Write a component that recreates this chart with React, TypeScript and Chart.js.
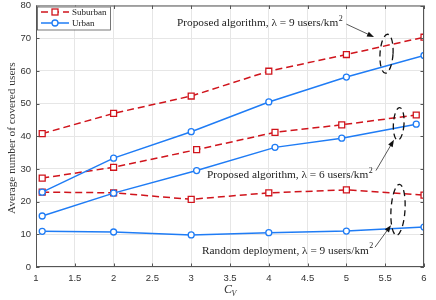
import React, { useEffect, useRef } from 'react';
import { Chart, registerables } from 'chart.js';

Chart.register(...registerables);

const xHigh = [1.08, 2, 3, 4, 5, 6];
const xMid = [1.08, 2, 3.07, 4.08, 4.94, 5.9];
const xLow = [1.08, 2, 3, 4, 5, 6];
const suburbanHigh = [40.8, 47.0, 52.3, 59.9, 65.0, 70.3];
const urbanHigh = [22.9, 33.3, 41.4, 50.5, 58.1, 64.7];
const suburbanMid = [27.2, 30.5, 35.9, 41.2, 43.5, 46.5];
const urbanMid = [15.6, 22.6, 29.5, 36.6, 39.4, 43.7];
const suburbanLow = [22.9, 22.7, 20.7, 22.7, 23.6, 22.0];
const urbanLow = [10.9, 10.7, 9.8, 10.5, 11.0, 12.2];
const xTicks = [1, 1.5, 2, 2.5, 3, 3.5, 4, 4.5, 5, 5.5, 6];
const xTickLabels = ['1', '1.5', '2', '2.5', '3', '3.5', '4', '4.5', '5', '5.5', '6'];
const yTicks = [0, 10, 20, 30, 40, 50, 60, 70, 80];
const yTickLabels = ['0', '10', '20', '30', '40', '50', '60', '70', '80'];

const legendLabels = ['Suburban', 'Urban'];
const annotationTexts = [
  'Proposed algorithm, \u03bb = 9 users/km',
  'Proposed algorithm, \u03bb = 6 users/km',
  'Random deployment, \u03bb = 9 users/km',
];
// [textX, textY, arrowTailX, arrowTailY, arrowTipX, arrowTipY, ellipseX, ellipseY] in data units
const annotationAnchors = [
  [2.817, 74.5, 5.0, 74.3, 5.356, 70.36, 5.517, 65.25],
  [3.204, 28.0, 5.381, 29.5, 5.613, 38.9, 5.674, 43.8],
  [3.139, 4.87, 5.369, 6.08, 5.575, 12.78, 5.665, 17.5],
];
const ellipseRadii = [
  [6.5, 19.5],
  [5.3, 16.3],
  [7, 25.5],
];

const RED = '#d0141c';
const BLUE = '#1f7cf5';
const SERIF = '"Liberation Serif", "DejaVu Serif", serif';
const SANS = '"Liberation Sans", Arial, sans-serif';

const zip = (xs: number[], ys: number[]) => xs.map((x, i) => ({ x, y: ys[i] }));

const sub = (data: { x: number; y: number }[]) => ({
  data,
  borderColor: RED,
  backgroundColor: RED,
  borderWidth: 1.5,
  borderDash: [7, 4],
  pointStyle: 'rect',
  pointRadius: 4.2,
  pointBorderWidth: 1.3,
  pointBackgroundColor: '#fff',
  pointBorderColor: RED,
  showLine: true,
  tension: 0,
});
const urb = (data: { x: number; y: number }[]) => ({
  data,
  borderColor: BLUE,
  backgroundColor: BLUE,
  borderWidth: 1.5,
  pointStyle: 'circle',
  pointRadius: 3,
  pointBorderWidth: 1.3,
  pointBackgroundColor: '#fff',
  pointBorderColor: BLUE,
  showLine: true,
  tension: 0,
});

const decorPlugin = {
  id: 'decor',
  afterDraw(chart: any) {
    const { ctx, chartArea: a, scales } = chart;
    const xs = scales.x;
    const ys = scales.y;
    ctx.save();
    // frame
    ctx.strokeStyle = '#555';
    ctx.lineWidth = 1;
    ctx.setLineDash([]);
    ctx.strokeRect(a.left + 0.5, a.top + 0.5, a.right - a.left - 1, a.bottom - a.top - 1);
    ctx.beginPath();
    xTicks.forEach((t) => {
      const px = Math.round(xs.getPixelForValue(t)) + 0.5;
      ctx.moveTo(px, a.bottom);
      ctx.lineTo(px, a.bottom - 3.5);
      ctx.moveTo(px, a.top);
      ctx.lineTo(px, a.top + 3.5);
    });
    yTicks.forEach((t) => {
      const py = Math.round(ys.getPixelForValue(t)) + 0.5;
      ctx.moveTo(a.left, py);
      ctx.lineTo(a.left + 3.5, py);
      ctx.moveTo(a.right, py);
      ctx.lineTo(a.right - 3.5, py);
    });
    ctx.stroke();

    // legend
    const lx = a.left + 1;
    const ly = a.top + 1;
    ctx.fillStyle = '#fff';
    ctx.fillRect(lx, ly, 73, 23);
    ctx.strokeStyle = '#555';
    ctx.lineWidth = 0.8;
    ctx.strokeRect(lx + 0.5, ly + 0.5, 73, 23);
    const rows = [ly + 5.5, ly + 16.5];
    ctx.font = '9px ' + SERIF;
    ctx.textBaseline = 'middle';
    ctx.textAlign = 'left';
    // suburban
    ctx.strokeStyle = RED;
    ctx.lineWidth = 1.5;
    ctx.setLineDash([7, 4]);
    ctx.beginPath();
    ctx.moveTo(lx + 4, rows[0]);
    ctx.lineTo(lx + 32, rows[0]);
    ctx.stroke();
    ctx.setLineDash([]);
    ctx.fillStyle = '#fff';
    ctx.lineWidth = 1.3;
    ctx.fillRect(lx + 15, rows[0] - 3, 6, 6);
    ctx.strokeRect(lx + 15, rows[0] - 3, 6, 6);
    // urban
    ctx.strokeStyle = BLUE;
    ctx.lineWidth = 1.5;
    ctx.beginPath();
    ctx.moveTo(lx + 4, rows[1]);
    ctx.lineTo(lx + 32, rows[1]);
    ctx.stroke();
    ctx.beginPath();
    ctx.arc(lx + 18, rows[1], 3, 0, Math.PI * 2);
    ctx.fillStyle = '#fff';
    ctx.fill();
    ctx.lineWidth = 1.3;
    ctx.stroke();
    ctx.fillStyle = '#222';
    ctx.fillText(legendLabels[0], lx + 35, rows[0] + 0.5);
    ctx.fillText(legendLabels[1], lx + 35, rows[1] + 0.5);

    // annotations
    annotationAnchors.forEach((an, i) => {
      const tx = xs.getPixelForValue(an[0]);
      const ty = ys.getPixelForValue(an[1]);
      ctx.fillStyle = '#222';
      ctx.font = '11.3px ' + SERIF;
      ctx.textBaseline = 'middle';
      ctx.textAlign = 'left';
      const txt = annotationTexts[i];
      ctx.fillText(txt, tx, ty);
      const w = ctx.measureText(txt).width;
      ctx.font = '8px ' + SERIF;
      ctx.fillText('2', tx + w + 0.5, ty - 5);

      // arrow
      const ax0 = xs.getPixelForValue(an[2]);
      const ay0 = ys.getPixelForValue(an[3]);
      const ax1 = xs.getPixelForValue(an[4]);
      const ay1 = ys.getPixelForValue(an[5]);
      const ang = Math.atan2(ay1 - ay0, ax1 - ax0);
      ctx.strokeStyle = '#111';
      ctx.lineWidth = 0.7;
      ctx.setLineDash([]);
      ctx.beginPath();
      ctx.moveTo(ax0, ay0);
      ctx.lineTo(ax1 - 5 * Math.cos(ang), ay1 - 5 * Math.sin(ang));
      ctx.stroke();
      ctx.fillStyle = '#111';
      ctx.beginPath();
      ctx.moveTo(ax1, ay1);
      ctx.lineTo(ax1 - 7 * Math.cos(ang) + 2.6 * Math.sin(ang), ay1 - 7 * Math.sin(ang) - 2.6 * Math.cos(ang));
      ctx.lineTo(ax1 - 7 * Math.cos(ang) - 2.6 * Math.sin(ang), ay1 - 7 * Math.sin(ang) + 2.6 * Math.cos(ang));
      ctx.closePath();
      ctx.fill();

      // ellipse
      const ex = xs.getPixelForValue(an[6]);
      const ey = ys.getPixelForValue(an[7]);
      ctx.strokeStyle = '#111';
      ctx.lineWidth = 1.3;
      ctx.setLineDash([6, 4]);
      ctx.beginPath();
      ctx.ellipse(ex, ey, ellipseRadii[i][0], ellipseRadii[i][1], 0.06, 0, Math.PI * 2);
      ctx.stroke();
      ctx.setLineDash([]);
    });

    // axis titles
    ctx.fillStyle = '#333';
    ctx.save();
    ctx.translate(12, (a.top + a.bottom) / 2 + 2);
    ctx.rotate(-Math.PI / 2);
    ctx.font = '11.3px ' + SERIF;
    ctx.textAlign = 'center';
    ctx.textBaseline = 'middle';
    ctx.fillText('Average number of covered users', 0, 0);
    ctx.restore();

    ctx.textAlign = 'left';
    ctx.textBaseline = 'alphabetic';
    ctx.font = 'italic 12px ' + SERIF;
    const cx = (a.left + a.right) / 2 - 6;
    ctx.fillText('C', cx, 293);
    const cw = ctx.measureText('C').width;
    ctx.font = 'italic 8px ' + SERIF;
    ctx.fillText('V', cx + cw - 0.5, 295.5);
    ctx.restore();
  },
};

export default function App() {
  const ref = useRef<HTMLCanvasElement | null>(null);
  useEffect(() => {
    if (!ref.current) return;
    const chart = new Chart(ref.current, {
      type: 'scatter',
      data: {
        datasets: [
          sub(zip(xHigh, suburbanHigh)),
          urb(zip(xHigh, urbanHigh)),
          sub(zip(xMid, suburbanMid)),
          urb(zip(xMid, urbanMid)),
          sub(zip(xLow, suburbanLow)),
          urb(zip(xLow, urbanLow)),
        ] as any,
      },
      options: {
        animation: false,
        responsive: false,
        maintainAspectRatio: false,
        layout: { padding: { top: 5, right: 12, left: 0, bottom: 0 } },
        plugins: { legend: { display: false }, tooltip: { enabled: false } },
        scales: {
          x: {
            type: 'linear',
            min: 1,
            max: 6,
            afterBuildTicks: (s: any) => {
              s.ticks = xTicks.map((v) => ({ value: v }));
            },
            afterFit: (s: any) => {
              s.height = 33;
              s.paddingLeft = 0;
              s.paddingRight = 0;
            },
            ticks: {
              font: { family: SANS, size: 9.5 },
              color: '#333',
              padding: 6,
              maxRotation: 0,
              autoSkip: false,
              callback: (_v: any, i: number) => xTickLabels[i],
            },
            grid: { color: '#e6e6e6', drawTicks: false, lineWidth: 1 },
            border: { display: false },
          },
          y: {
            type: 'linear',
            min: 0,
            max: 80,
            afterBuildTicks: (s: any) => {
              s.ticks = yTicks.map((v) => ({ value: v }));
            },
            afterFit: (s: any) => {
              s.width = 36;
              s.paddingTop = 0;
              s.paddingBottom = 0;
            },
            ticks: {
              font: { family: SANS, size: 9.5 },
              color: '#333',
              padding: 5,
              autoSkip: false,
              callback: (_v: any, i: number) => yTickLabels[i],
            },
            grid: { color: '#e6e6e6', drawTicks: false, lineWidth: 1 },
            border: { display: false },
          },
        },
      } as any,
      plugins: [decorPlugin],
    });
    return () => chart.destroy();
  }, []);
  return (
    <div style={{ position: 'fixed', left: 0, top: 0, width: 436, height: 300, background: '#fff' }}>
      <canvas ref={ref} width={436} height={300} style={{ width: 436, height: 300 }} />
    </div>
  );
}
